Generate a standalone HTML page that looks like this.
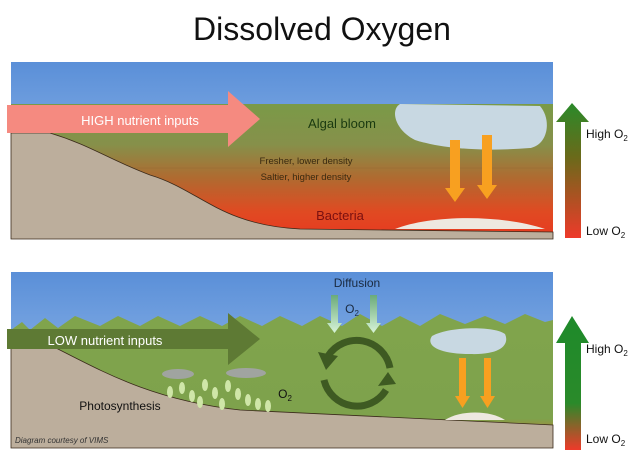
<!DOCTYPE html>
<html><head><style>body{margin:0;background:#fff}svg{display:block}text{font-family:"Liberation Sans",sans-serif}</style></head><body>
<svg width="644" height="462" viewBox="0 0 644 462" xmlns="http://www.w3.org/2000/svg">
<defs>
<linearGradient id="sky" x1="0" y1="0" x2="0" y2="1"><stop offset="0" stop-color="#5a8fd8"/><stop offset="1" stop-color="#a8c8f0"/></linearGradient>
<linearGradient id="w1" x1="0" y1="0" x2="0" y2="1"><stop offset="0" stop-color="#7a9a48"/><stop offset="0.3" stop-color="#86904a"/><stop offset="0.55" stop-color="#b06a30"/><stop offset="0.8" stop-color="#e04a22"/><stop offset="1" stop-color="#e83820"/></linearGradient>
<linearGradient id="w2" x1="0" y1="0" x2="0" y2="1"><stop offset="0" stop-color="#80a44c"/><stop offset="0.78" stop-color="#7ea24c"/><stop offset="1" stop-color="#e0621e"/></linearGradient>
<linearGradient id="g1" x1="0" y1="0" x2="0" y2="1"><stop offset="0" stop-color="#2a8a2a"/><stop offset="0.4" stop-color="#6a6a1a"/><stop offset="1" stop-color="#ee3a2a"/></linearGradient>
<linearGradient id="g2" x1="0" y1="0" x2="0" y2="1"><stop offset="0" stop-color="#1e8a2a"/><stop offset="0.65" stop-color="#2a8a2a"/><stop offset="1" stop-color="#ee3a2a"/></linearGradient>
<linearGradient id="dif" x1="0" y1="0" x2="0" y2="1"><stop offset="0" stop-color="#6aaa7a"/><stop offset="1" stop-color="#d8f4d8"/></linearGradient>
</defs>
<text x="322" y="40" font-size="32" text-anchor="middle" fill="#111">Dissolved Oxygen</text>
<!-- top panel -->
<rect x="11" y="62" width="542" height="177" fill="url(#sky)"/>
<rect x="11" y="104" width="542" height="135" fill="url(#w1)"/>
<line x1="120" y1="168" x2="553" y2="168" stroke="#8a5a30" stroke-width="0.5" opacity="0.5"/>
<path d="M11,133 L50,133 C90,145 110,160 150,175 C200,190 220,225 300,229 L553,232 L553,239 L11,239 Z" fill="#bcae9c" stroke="#3a2a1a" stroke-width="0.8"/>
<path d="M395,229 C430,215 500,214 545,229 Z" fill="#eee8e0"/>
<path d="M7,105 H228 V91 L260,119 L228,147 V133 H7 Z" fill="#f58a80"/>
<text x="140" y="125" font-size="13" text-anchor="middle" fill="#fff">HIGH nutrient inputs</text>
<text x="342" y="128" font-size="13" text-anchor="middle" fill="#1a3a10">Algal bloom</text>
<path d="M400,104 L540,106 C552,120 548,145 530,148 C480,152 440,148 415,140 C395,130 390,110 400,104 Z" fill="#c8d8e2"/>
<text x="306" y="164" font-size="9.5" text-anchor="middle" fill="#3a2a10">Fresher, lower density</text>
<text x="306" y="180" font-size="9.5" text-anchor="middle" fill="#3a2a10">Saltier, higher density</text>
<g fill="#f8a020"><path d="M450,140 h10 v48 h5 l-10,14 l-10,-14 h5 Z"/><path d="M482,135 h10 v50 h5 l-10,14 l-10,-14 h5 Z"/></g>
<text x="340" y="220" font-size="13" text-anchor="middle" fill="#7a1010">Bacteria</text>
<path d="M565,238 V122 H556 L572,103 L589,122 H581 V238 Z" fill="url(#g1)"/>
<text x="586" y="138" font-size="12" fill="#111">High O<tspan font-size="8" dy="3">2</tspan></text>
<text x="586" y="235" font-size="12" fill="#111">Low O<tspan font-size="8" dy="3">2</tspan></text>
<!-- bottom panel -->
<rect x="11" y="272" width="542" height="176" fill="url(#sky)"/>
<path d="M11,330 L22,322 L30,330 L45,318 L58,328 L75,316 L100,326 L118,316 L140,326 L158,316 L180,326 L200,316 L222,326 L240,316 L262,326 L280,316 L302,326 L320,316 L342,326 L360,314 L382,326 L400,316 L420,326 L440,314 L465,324 L485,316 L505,324 L525,314 L545,322 L553,320 V448 H11 Z" fill="url(#w2)"/>
<path d="M11,345 L50,345 C100,370 150,400 240,410 L553,425 L553,448 L11,448 Z" fill="#bcae9c" stroke="#3a2a1a" stroke-width="0.8"/>
<path d="M445,420 C460,410 490,410 505,420 Z" fill="#eee8e0"/>
<path d="M7,329 H228 V313 L260,339 L228,365 V349 H7 Z" fill="#5e7a34"/>
<text x="105" y="345" font-size="13" text-anchor="middle" fill="#fff">LOW nutrient inputs</text>
<text x="357" y="287" font-size="12" text-anchor="middle" fill="#1a2a40">Diffusion</text>
<text x="352" y="313" font-size="12" text-anchor="middle" fill="#1a2a40">O<tspan font-size="8" dy="3">2</tspan></text>
<g fill="url(#dif)"><path d="M331,295 h7 v28 h4 l-7.5,10 l-7.5,-10 h4 Z"/><path d="M370,295 h7 v28 h4 l-7.5,10 l-7.5,-10 h4 Z"/></g>
<g fill="none" stroke="#3e5a22" stroke-width="7"><path d="M390,368 A34,34 0 0 0 328,356"/><path d="M324,380 A34,34 0 0 0 386,390"/></g>
<path d="M318,352 L338,356 L326,370 Z" fill="#3e5a22"/><path d="M396,384 L378,386 L388,372 Z" fill="#3e5a22"/>
<path d="M432,336 C450,326 495,326 505,334 C510,345 500,355 470,354 C440,354 425,346 432,336 Z" fill="#c8d8e2"/>
<g fill="#f8a020"><path d="M459,358 h7 v38 h4 l-7.5,12 l-7.5,-12 h4 Z"/><path d="M484,358 h7 v38 h4 l-7.5,12 l-7.5,-12 h4 Z"/></g>
<g fill="#cfe6a8"><ellipse cx="170" cy="392" rx="3" ry="6"/><ellipse cx="182" cy="388" rx="3" ry="6"/><ellipse cx="192" cy="396" rx="3" ry="6"/><ellipse cx="205" cy="385" rx="3" ry="6"/><ellipse cx="215" cy="393" rx="3" ry="6"/><ellipse cx="228" cy="386" rx="3" ry="6"/><ellipse cx="238" cy="394" rx="3" ry="6"/><ellipse cx="248" cy="400" rx="3" ry="6"/><ellipse cx="258" cy="404" rx="3" ry="6"/><ellipse cx="268" cy="406" rx="3" ry="6"/><ellipse cx="200" cy="402" rx="3" ry="6"/><ellipse cx="222" cy="404" rx="3" ry="6"/></g>
<g fill="#a0a4a0"><ellipse cx="178" cy="374" rx="16" ry="5"/><ellipse cx="246" cy="373" rx="20" ry="5"/></g>
<text x="285" y="398" font-size="12" text-anchor="middle" fill="#111">O<tspan font-size="8" dy="3">2</tspan></text>
<text x="120" y="410" font-size="12" text-anchor="middle" fill="#111">Photosynthesis</text>
<text x="15" y="443" font-size="8" font-style="italic" fill="#333">Diagram courtesy of VIMS</text>
<path d="M565,450 V343 H556 L572,316 L589,343 H581 V450 Z" fill="url(#g2)"/>
<text x="586" y="353" font-size="12" fill="#111">High O<tspan font-size="8" dy="3">2</tspan></text>
<text x="586" y="443" font-size="12" fill="#111">Low O<tspan font-size="8" dy="3">2</tspan></text>
</svg>
</body></html>
